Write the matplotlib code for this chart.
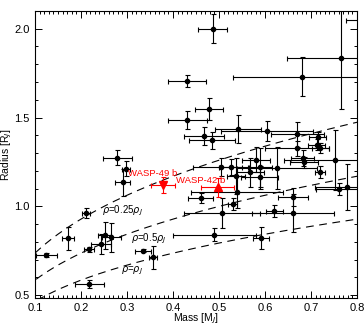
import numpy as np
import matplotlib
matplotlib.use("Agg")
import matplotlib.pyplot as plt
from matplotlib.ticker import MultipleLocator

# known planets: mass [MJ], radius [RJ] and their errors
mass = [0.486, 0.431, 0.680, 0.764, 0.860, 0.478, 0.431, 0.279, 0.298, 0.291,
        0.211, 0.171, 0.125, 0.218, 0.243, 0.252, 0.266, 0.218, 0.335, 0.356,
        0.490, 0.591, 0.467, 0.485, 0.542, 0.604, 0.670, 0.714, 0.712, 0.720,
        0.669, 0.682, 0.685, 0.751, 0.580, 0.590, 0.588, 0.568, 0.626, 0.504,
        0.525, 0.537, 0.540, 0.460, 0.530, 0.506, 0.620, 0.661, 0.661, 0.720,
        0.761, 0.779]
mass_err = [0.032, 0.041, 0.150, 0.117, 0.085, 0.030, 0.042, 0.031, 0.008, 0.016,
            0.009, 0.013, 0.022, 0.011, 0.022, 0.014, 0.020, 0.031, 0.018, 0.009,
            0.090, 0.018, 0.043, 0.050, 0.050, 0.100, 0.058, 0.018, 0.018, 0.018,
            0.070, 0.025, 0.030, 0.110, 0.030, 0.025, 0.040, 0.030, 0.087, 0.060,
            0.025, 0.020, 0.100, 0.027, 0.010, 0.083, 0.018, 0.089, 0.033, 0.011,
            0.050, 0.070]
radius = [2.000, 1.706, 1.730, 1.837, 2.050, 1.547, 1.487, 1.275, 1.213, 1.135,
          0.961, 0.820, 0.725, 0.758, 0.789, 0.837, 0.826, 0.563, 0.751, 0.713,
          0.840, 0.823, 1.396, 1.371, 1.434, 1.425, 1.406, 1.388, 1.347, 1.326,
          1.326, 1.272, 1.247, 1.262, 1.262, 1.219, 1.163, 1.191, 1.215, 1.223,
          1.219, 1.172, 1.079, 1.048, 1.013, 0.961, 0.972, 0.961, 1.054, 1.194,
          1.098, 1.107]
radius_err = [0.083, 0.034, 0.110, 0.290, 0.050, 0.063, 0.050, 0.040, 0.042, 0.075,
              0.028, 0.065, 0.012, 0.014, 0.056, 0.075, 0.080, 0.020, 0.010, 0.066,
              0.037, 0.060, 0.050, 0.047, 0.078, 0.056, 0.070, 0.030, 0.030, 0.028,
              0.040, 0.047, 0.030, 0.170, 0.070, 0.110, 0.065, 0.080, 0.117, 0.050,
              0.045, 0.100, 0.090, 0.028, 0.033, 0.085, 0.033, 0.107, 0.050, 0.033,
              0.035, 0.130]

# the two new planets
wasp_names = ["WASP-49 b", "WASP-42 b"]
wasp_mass = [0.378, 0.497]
wasp_mass_err = [0.026, 0.036]
wasp_radius = [1.120, 1.107]
wasp_radius_err = [0.047, 0.055]

# density contours, in units of Jupiter density
densities = [1.0, 0.5, 0.25]
density_labels = [r"$\rho$=$\rho_J$", r"$\rho$=0.5$\rho_J$", r"$\rho$=0.25$\rho_J$"]
label_pos = [(0.286, 0.635), (0.309, 0.82), (0.245, 0.975)]

plt.rcParams["font.family"] = ["Liberation Sans", "DejaVu Sans"]
plt.rcParams["mathtext.fontset"] = "dejavusans"
plt.rcParams["font.size"] = 8

fig = plt.figure(figsize=(3.64, 3.31), dpi=100)
ax = fig.add_axes([0.096, 0.10, 0.885, 0.867])

m = np.linspace(0.08, 0.82, 200)
for rho, lab, pos in zip(densities, density_labels, label_pos):
    ax.plot(m, (m / rho) ** (1.0 / 3.0), color="black", lw=0.8, dashes=(7, 5))
    ax.text(pos[0], pos[1], lab, fontsize=7, va="center", ha="left")

ax.errorbar(mass, radius, xerr=mass_err, yerr=radius_err, fmt="o", color="black",
            ms=3, elinewidth=0.8, capsize=1.8, capthick=0.8)

ax.errorbar(wasp_mass[0], wasp_radius[0], xerr=wasp_mass_err[0], yerr=wasp_radius_err[0],
            fmt="v", color="red", ms=6, elinewidth=0.8, capsize=1.8, capthick=0.8)
ax.errorbar(wasp_mass[1], wasp_radius[1], xerr=wasp_mass_err[1], yerr=wasp_radius_err[1],
            fmt="^", color="red", ms=6, elinewidth=0.8, capsize=1.8, capthick=0.8)
ax.text(0.302, 1.185, wasp_names[0], color="red", fontsize=6.8, va="center", ha="left")
ax.text(0.407, 1.145, wasp_names[1], color="red", fontsize=6.8, va="center", ha="left")

ax.set_xlim(0.1, 0.8)
ax.set_ylim(0.485, 2.1)
ax.xaxis.set_major_locator(MultipleLocator(0.1))
ax.xaxis.set_minor_locator(MultipleLocator(0.01))
ax.yaxis.set_major_locator(MultipleLocator(0.5))
ax.yaxis.set_minor_locator(MultipleLocator(0.1))
ax.tick_params(which="both", direction="in", top=True, right=True, width=0.7)
ax.tick_params(which="major", length=5, pad=4)
ax.tick_params(which="minor", length=2.5)
for s in ax.spines.values():
    s.set_linewidth(0.8)

ax.set_xlabel(r"Mass [M$_J$]", fontsize=7.5, va="center")
ax.xaxis.set_label_coords(0.5, -0.073)
ax.set_ylabel(r"Radius [R$_J$]", fontsize=7.5, va="center")
ax.yaxis.set_label_coords(-0.086, 0.5)

fig.savefig("out.png", dpi=100)
